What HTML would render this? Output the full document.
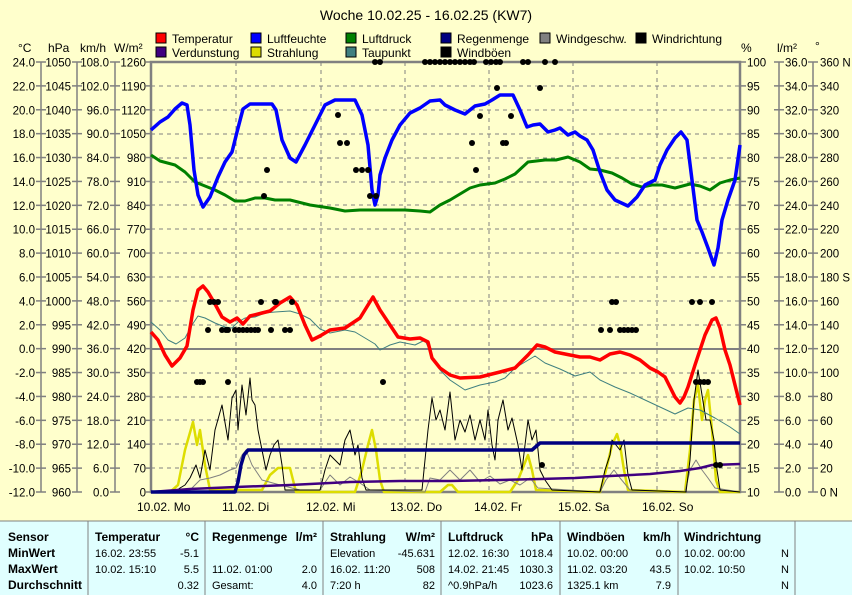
<!DOCTYPE html>
<html><head><meta charset="utf-8"><style>
html,body{margin:0;padding:0;background:#ffffcc;}
body{width:852px;height:595px;overflow:hidden;position:relative;font-family:"Liberation Sans",sans-serif;}
svg text{font-family:"Liberation Sans",sans-serif;}
</style></head><body>
<svg width="852" height="595" xmlns="http://www.w3.org/2000/svg" style="position:absolute;left:0;top:0">
<rect width="852" height="595" fill="#ffffcc"/>
<text x="426" y="20" font-size="14" text-anchor="middle" fill="#000">Woche 10.02.25 - 16.02.25 (KW7)</text>
<g font-size="12" fill="#000">
<rect x="156" y="33" width="10" height="10" fill="#ff0000" stroke="#000"/><text x="172" y="43">Temperatur</text>
<rect x="251" y="33" width="10" height="10" fill="#0000ff" stroke="#000"/><text x="267" y="43">Luftfeuchte</text>
<rect x="346" y="33" width="10" height="10" fill="#008000" stroke="#000"/><text x="362" y="43">Luftdruck</text>
<rect x="441" y="33" width="10" height="10" fill="#000080" stroke="#000"/><text x="457" y="43">Regenmenge</text>
<rect x="540" y="33" width="10" height="10" fill="#808080" stroke="#000"/><text x="556" y="43">Windgeschw.</text>
<rect x="636" y="33" width="10" height="10" fill="#000" stroke="#000"/><text x="652" y="43">Windrichtung</text>
<rect x="156" y="47" width="10" height="10" fill="#400080" stroke="#000"/><text x="172" y="57">Verdunstung</text>
<rect x="251" y="47" width="10" height="10" fill="#dddd00" stroke="#000"/><text x="267" y="57">Strahlung</text>
<rect x="346" y="47" width="10" height="10" fill="#408080" stroke="#000"/><text x="362" y="57">Taupunkt</text>
<rect x="441" y="47" width="10" height="10" fill="#000" stroke="#000"/><text x="457" y="57">Windböen</text>
<text x="18" y="52">°C</text><text x="48" y="52">hPa</text><text x="80" y="52">km/h</text><text x="114" y="52">W/m²</text>
<text x="741" y="52">%</text><text x="777" y="52">l/m²</text><text x="815" y="50">°</text>
</g>
<g id="grid" stroke="#808080" stroke-dasharray="4,4" stroke-width="1">
<line x1="151" x2="740" y1="86" y2="86"/><line x1="151" x2="740" y1="110" y2="110"/><line x1="151" x2="740" y1="134" y2="134"/><line x1="151" x2="740" y1="158" y2="158"/><line x1="151" x2="740" y1="182" y2="182"/><line x1="151" x2="740" y1="205" y2="205"/><line x1="151" x2="740" y1="229" y2="229"/><line x1="151" x2="740" y1="253" y2="253"/><line x1="151" x2="740" y1="277" y2="277"/><line x1="151" x2="740" y1="301" y2="301"/><line x1="151" x2="740" y1="325" y2="325"/><line x1="151" x2="740" y1="373" y2="373"/><line x1="151" x2="740" y1="397" y2="397"/><line x1="151" x2="740" y1="420" y2="420"/><line x1="151" x2="740" y1="444" y2="444"/><line x1="151" x2="740" y1="468" y2="468"/>
<line x1="236" x2="236" y1="62" y2="492"/><line x1="321" x2="321" y1="62" y2="492"/><line x1="405" x2="405" y1="62" y2="492"/><line x1="489" x2="489" y1="62" y2="492"/><line x1="573" x2="573" y1="62" y2="492"/><line x1="657" x2="657" y1="62" y2="492"/>
</g>
<line x1="151" x2="740" y1="349" y2="349" stroke="#808080" stroke-width="2"/>
<rect x="151" y="62" width="589" height="430" fill="none" stroke="#808080" stroke-width="2.5"/>
<g stroke="#808080" stroke-width="1.5"><line x1="41" x2="41" y1="62" y2="492"/><line x1="77" x2="77" y1="62" y2="492"/><line x1="115" x2="115" y1="62" y2="492"/><line x1="779" x2="779" y1="62" y2="492"/><line x1="813" x2="813" y1="62" y2="492"/></g>
<g font-size="11.5" fill="#000" text-anchor="end" id="lab"></g>
<g fill="none" stroke-linejoin="round">
<polyline stroke="#dddd00" stroke-width="2.5" points="151,492 170,492 178,485 185,450 193,422 197,445 200,430 205,465 210,490 262,490 270,475 278,468 290,468 293,480 296,492 355,492 362,470 368,445 372,430 376,450 380,480 384,492 440,492 448,485 452,485 458,492 510,492 518,480 524,465 528,455 532,470 536,490 600,492 606,470 612,445 617,434 620,445 624,470 628,490 685,492 690,450 694,400 698,385 702,420 705,400 708,390 712,430 716,480 720,492 740,492"/>
<polyline stroke="#808080" stroke-width="1" points="151,492 190,490 200,480 210,478 220,475 230,470 236,468 242,455 246,450 252,465 262,480 280,485 300,490 320,490 330,475 340,485 350,477 360,483 370,490 425,492 430,478 440,480 450,470 460,480 470,470 480,482 490,476 500,484 510,480 520,485 530,478 538,488 600,492 606,480 614,470 620,478 630,490 685,492 690,470 696,460 702,470 708,478 715,488 740,492"/>
<polyline stroke="#000" stroke-width="1" points="151,492 175,492 180,488 185,485 190,478 196,465 200,478 205,450 210,470 215,430 222,405 228,440 232,398 236,390 238,430 242,385 246,415 250,378 252,400 255,405 258,430 262,450 266,470 270,455 274,445 278,440 282,465 285,490 320,490 325,470 330,455 335,460 340,465 345,440 350,430 355,455 358,445 362,478 366,490 422,490 428,430 432,398 436,420 440,410 445,430 450,392 455,440 460,420 465,432 470,415 475,440 480,420 485,440 488,410 492,445 495,460 498,420 503,400 508,430 512,418 518,445 522,470 528,420 532,440 536,430 540,470 545,480 552,490 600,492 605,470 610,455 612,440 616,445 620,450 624,440 628,475 632,490 686,492 690,460 694,400 698,370 702,395 706,420 710,420 714,440 717,470 720,490 740,492"/>
<polyline stroke="#400080" stroke-width="2.5" points="151,492 190,489 236,487 290,485 350,482 400,481 450,481 500,480 540,479 575,478 610,476 650,474 680,471 700,468 712,465 740,464"/>
<polyline stroke="#000080" stroke-width="3.5" points="151,492 235,492 238,482 241,465 244,455 248,450 532,450 540,443 740,443"/>
<polyline stroke="#408080" stroke-width="1" points="151,322 160,330 168,340 176,344 185,338 192,325 198,316 205,318 215,323 225,327 232,328 238,322 245,318 255,317 265,313 275,312 290,311 300,314 310,319 320,329 330,333 345,330 355,332 365,338 375,344 380,350 390,345 400,342 415,345 425,340 432,356 440,370 450,380 465,390 480,385 495,382 505,378 515,368 525,362 535,356 545,363 560,369 575,376 590,372 600,380 615,387 630,393 645,400 660,407 675,414 688,408 700,410 715,418 730,427 740,434"/>
<polyline stroke="#008000" stroke-width="3" points="151,155 160,161 175,165 185,172 195,182 205,186 215,190 225,195 235,201 245,201 255,198 265,198 275,200 290,200 310,205 330,208 345,211 360,210 375,210 390,210 405,210 420,211 430,212 440,205 450,200 460,194 470,188 480,185 495,183 505,179 515,174 528,162 545,160 556,160 568,157 580,162 590,169 600,170 612,173 622,178 632,184 642,187 652,185 662,185 675,188 690,184 700,186 710,190 720,183 730,180 740,178"/>
<polyline stroke="#ff0000" stroke-width="3.5" points="151,332 158,340 165,355 172,366 180,358 187,346 193,310 198,290 203,286 208,292 215,304 222,317 230,322 237,318 243,324 250,316 262,313 270,311 280,303 290,297 297,305 305,325 312,340 320,336 330,330 345,328 360,318 368,305 373,297 380,310 390,325 398,337 410,339 420,338 428,342 432,358 440,368 450,375 460,378 480,377 500,372 515,368 528,355 537,345 545,347 555,352 570,355 580,357 590,357 600,360 610,354 620,352 630,355 640,360 650,368 658,372 665,377 670,387 675,397 680,403 684,397 688,387 695,365 705,335 712,320 716,318 720,328 725,350 730,365 735,385 740,405"/>
<polyline stroke="#0000ff" stroke-width="3.5" points="151,130 160,122 168,117 175,109 182,103 187,105 190,125 194,170 198,195 203,207 210,197 218,177 225,162 232,152 237,132 243,109 250,104 272,104 276,110 282,140 290,158 296,162 305,145 315,125 325,105 335,100 355,100 362,115 368,145 372,190 375,205 378,195 380,175 385,158 392,140 400,125 410,113 420,108 430,101 440,100 445,105 455,110 465,114 475,106 485,104 492,100 500,95 513,95 520,110 527,127 533,125 540,124 548,132 555,130 560,128 568,135 575,132 580,136 587,140 593,150 600,172 607,190 615,200 628,206 637,197 645,185 655,180 660,165 667,150 675,138 681,132 687,140 692,180 697,220 702,232 708,248 714,265 718,248 722,220 728,200 735,180 740,145"/>
</g>
<g fill="#000" id="dots"></g>
<g font-size="12" fill="#000">
<text x="137" y="511">10.02. Mo</text><text x="222" y="511">11.02. Di</text><text x="306" y="511">12.02. Mi</text><text x="390" y="511">13.02. Do</text><text x="474" y="511">14.02. Fr</text><text x="558" y="511">15.02. Sa</text><text x="642" y="511">16.02. So</text>
</g>
<rect x="0" y="521" width="852" height="74" fill="#e0ffff"/>
<line x1="0" x2="852" y1="521" y2="521" stroke="#808080"/>
<g stroke="#808080"><line x1="88" x2="88" y1="521" y2="595"/><line x1="205" x2="205" y1="521" y2="595"/><line x1="323" x2="323" y1="521" y2="595"/><line x1="441" x2="441" y1="521" y2="595"/><line x1="560" x2="560" y1="521" y2="595"/><line x1="678" x2="678" y1="521" y2="595"/><line x1="795" x2="795" y1="521" y2="595"/></g>
<g font-size="12" fill="#000" font-weight="bold">
<text x="8" y="541">Sensor</text><text x="8" y="557">MinWert</text><text x="8" y="573">MaxWert</text><text x="8" y="589">Durchschnitt</text>
<text x="95" y="541">Temperatur</text><text x="199" y="541" text-anchor="end">°C</text>
<text x="212" y="541">Regenmenge</text><text x="317" y="541" text-anchor="end">l/m²</text>
<text x="330" y="541">Strahlung</text><text x="435" y="541" text-anchor="end">W/m²</text>
<text x="448" y="541">Luftdruck</text><text x="553" y="541" text-anchor="end">hPa</text>
<text x="567" y="541">Windböen</text><text x="671" y="541" text-anchor="end">km/h</text>
<text x="684" y="541">Windrichtung</text>
</g>
<g font-size="11" fill="#000">
<text x="95" y="557">16.02.  23:55</text><text x="199" y="557" text-anchor="end">-5.1</text>
<text x="95" y="573">10.02.  15:10</text><text x="199" y="573" text-anchor="end">5.5</text>
<text x="199" y="589" text-anchor="end">0.32</text>
<text x="212" y="573">11.02.  01:00</text><text x="317" y="573" text-anchor="end">2.0</text>
<text x="212" y="589">Gesamt:</text><text x="317" y="589" text-anchor="end">4.0</text>
<text x="330" y="557">Elevation</text><text x="435" y="557" text-anchor="end">-45.631</text>
<text x="330" y="573">16.02.  11:20</text><text x="435" y="573" text-anchor="end">508</text>
<text x="330" y="589">7:20 h</text><text x="435" y="589" text-anchor="end">82</text>
<text x="448" y="557">12.02.  16:30</text><text x="553" y="557" text-anchor="end">1018.4</text>
<text x="448" y="573">14.02.  21:45</text><text x="553" y="573" text-anchor="end">1030.3</text>
<text x="448" y="589">^0.9hPa/h</text><text x="553" y="589" text-anchor="end">1023.6</text>
<text x="567" y="557">10.02.  00:00</text><text x="671" y="557" text-anchor="end">0.0</text>
<text x="567" y="573">11.02.  03:20</text><text x="671" y="573" text-anchor="end">43.5</text>
<text x="567" y="589">1325.1 km</text><text x="671" y="589" text-anchor="end">7.9</text>
<text x="684" y="557">10.02.  00:00</text><text x="789" y="557" text-anchor="end">N</text>
<text x="684" y="573">10.02.  10:50</text><text x="789" y="573" text-anchor="end">N</text>
<text x="789" y="589" text-anchor="end">N</text>
</g>
</svg>
<script>
(function(){
var NS="http://www.w3.org/2000/svg";
var lab=document.getElementById("lab");
function t(x,y,s,anchor){var e=document.createElementNS(NS,"text");e.setAttribute("x",x);e.setAttribute("y",y);e.setAttribute("text-anchor",anchor||"start");e.textContent=s;lab.appendChild(e);}
function l(x1,x2,y){var e=document.createElementNS(NS,"line");e.setAttribute("x1",x1);e.setAttribute("x2",x2);e.setAttribute("y1",y);e.setAttribute("y2",y);e.setAttribute("stroke","#808080");e.setAttribute("stroke-width","1.5");lab.appendChild(e);}
var dir={0:"360 N",9:"180 S",18:"0 N"};
for(var k=0;k<=18;k++){
 var y=62+k*430/18, ty=y+4.5;
 t(35,ty,(24-2*k).toFixed(1),"end");
 t(71,ty,String(1050-5*k),"end");
 t(109,ty,(108-6*k).toFixed(1),"end");
 t(146,ty,String(1260-70*k),"end");
 l(36,46,y);l(72,82,y);l(110,120,y);l(146,151,y);
 t(747,ty,String(100-5*k));
 t(785,ty,(36-2*k).toFixed(1));
 t(820,ty,dir[k]||String(360-20*k));
 l(740,746,y);l(774,784,y);l(808,818,y);
}
var d=document.getElementById("dots");
var pts=[[375,62],[380,62],[425,62],[430,62],[435,62],[440,62],[445,62],[450,62],[455,62],[460,62],[465,62],[470,62],[474,62],[486,62],[491,62],[496,62],[500,62],[523,62],[528,62],[545,62],[555,62],[497,88],[540,88],[480,116],[511,116],[338,115],[472,143],[503,143],[506,143],[340,143],[347,143],[476,170],[356,170],[362,170],[368,170],[267,170],[264,196],[370,196],[376,196],
[210,302],[214,302],[218,302],[261,302],[275,302],[276,302],[292,302],[612,302],[616,302],[692,302],[700,302],[712,302],
[208,330],[222,330],[226,330],[228,330],[235,330],[239,330],[243,330],[247,330],[251,330],[255,330],[258,330],[271,330],[285,330],[290,330],[601,330],[610,330],[620,330],[624,330],[628,330],[632,330],[636,330],
[197,382],[200,382],[203,382],[228,382],[383,382],[696,382],[700,382],[704,382],[708,382],[542,465],[716,465],[720,465]];
pts.forEach(function(p){var c=document.createElementNS(NS,"circle");c.setAttribute("cx",p[0]);c.setAttribute("cy",p[1]);c.setAttribute("r","3");d.appendChild(c);});
})();
</script>
</body></html>
